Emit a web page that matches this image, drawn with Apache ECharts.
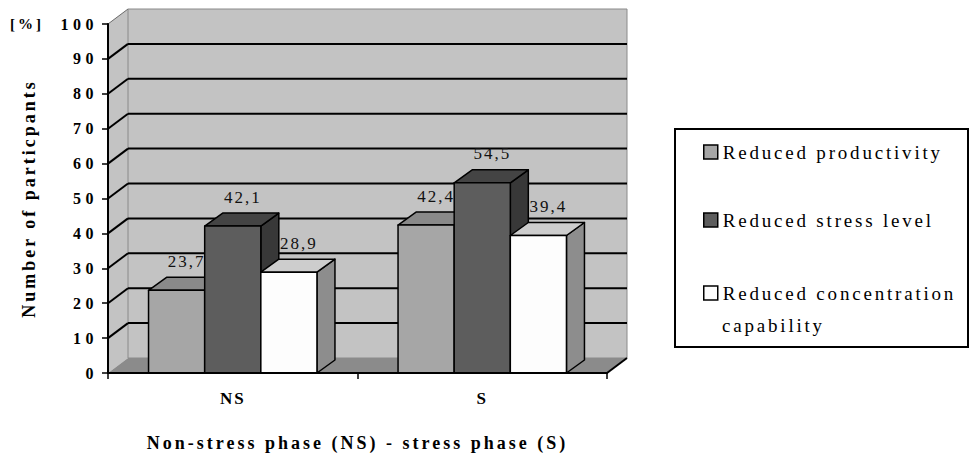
<!DOCTYPE html>
<html>
<head>
<meta charset="utf-8">
<script src="https://cdn.jsdelivr.net/npm/echarts@6/dist/echarts.min.js"></script>
<style>
  html, body { margin: 0; padding: 0; background: #ffffff; }
  #chart { width: 970px; height: 457px; }
</style>
</head>
<body>
<div id="chart"></div>
<script>
// Phases on the x axis and the share of participants per effect
const categories = ['NS', 'S'];
const seriesNames = ['Reduced productivity', 'Reduced stress level', 'Reduced concentration capability'];
const productivity = [23.7, 42.4];
const stressLevel = [42.1, 54.5];
const concentration = [28.9, 39.4];
const yTicks = [0, 10, 20, 30, 40, 50, 60, 70, 80, 90, 100];

const FONT = 'Liberation Serif';

// Face shades for each bar: front, top, side
const shades = [
  { front: '#a6a6a6', top: '#898989', side: '#7c7c7c' },
  { front: '#5d5d5d', top: '#444444', side: '#383838' },
  { front: '#fdfdfd', top: '#cdcdcd', side: '#8d8d8d' }
];

// Depth of the walls and of the boxes in the oblique projection
const WALL_DX = 20, WALL_DY = -15;
const BAR_DX = 18, BAR_DY = -13;
const BAR_RATIO = 0.225;

function renderFrame(params, api) {
  const cs = params.coordSys;
  const x0 = cs.x, x1 = cs.x + cs.width;
  const yMin = yTicks[0], yMax = yTicks[yTicks.length - 1];
  const yB = api.coord([0, yMin])[1];
  const yT = api.coord([0, yMax])[1];
  const children = [];
  // left side wall
  children.push({
    type: 'polygon',
    shape: { points: [[x0, yT], [x0 + WALL_DX, yT + WALL_DY], [x0 + WALL_DX, yB + WALL_DY], [x0, yB]] },
    style: { fill: '#c3c3c3', stroke: null }
  });
  // back wall
  children.push({
    type: 'rect',
    shape: { x: x0 + WALL_DX, y: yT + WALL_DY, width: x1 - x0, height: yB - yT },
    style: { fill: '#c3c3c3', stroke: '#8a8a8a', lineWidth: 1 }
  });
  // floor
  children.push({
    type: 'polygon',
    shape: { points: [[x0, yB], [x1, yB], [x1 + WALL_DX, yB + WALL_DY], [x0 + WALL_DX, yB + WALL_DY]] },
    style: { fill: '#8b8b8b', stroke: null }
  });
  children.push({
    type: 'line',
    shape: { x1: x1, y1: yB, x2: x1 + WALL_DX, y2: yB + WALL_DY },
    style: { stroke: '#000', lineWidth: 2 }
  });
  // gridlines on the back wall and their slants on the side wall
  yTicks.forEach(function (v) {
    if (v === yMin) return;
    const y = api.coord([0, v])[1];
    const isTop = v === yMax;
    if (!isTop) {
      children.push({
        type: 'line',
        shape: { x1: x0 + WALL_DX, y1: y + WALL_DY, x2: x1 + WALL_DX, y2: y + WALL_DY },
        style: { stroke: '#000', lineWidth: 2 }
      });
    }
    children.push({
      type: 'line',
      shape: { x1: x0, y1: y, x2: x0 + WALL_DX, y2: y + WALL_DY },
      style: { stroke: isTop ? '#6a6a6a' : '#000', lineWidth: isTop ? 1 : 2 }
    });
  });
  return { type: 'group', children: children };
}

function fmt(v) {
  return v.toFixed(1).replace('.', ',');
}

function makeBarRenderer(k) {
  const shade = shades[k];
  return function (params, api) {
    const cat = api.value(0);
    const val = api.value(1);
    const base = api.coord([cat, 0]);
    const top = api.coord([cat, val]);
    const band = api.size([1, 0])[0];
    const w = band * BAR_RATIO;
    const xl = base[0] + (k - 1.5) * w;
    const xr = xl + w;
    const yt = top[1], yb = base[1];
    const edge = { stroke: '#000', lineWidth: 1.5, lineJoin: 'round' };
    return {
      type: 'group',
      children: [
        {
          type: 'polygon',
          shape: { points: [[xr, yt], [xr + BAR_DX, yt + BAR_DY], [xr + BAR_DX, yb + BAR_DY], [xr, yb]] },
          style: Object.assign({ fill: shade.side }, edge)
        },
        {
          type: 'polygon',
          shape: { points: [[xl, yt], [xr, yt], [xr + BAR_DX, yt + BAR_DY], [xl + BAR_DX, yt + BAR_DY]] },
          style: Object.assign({ fill: shade.top }, edge)
        },
        {
          type: 'rect',
          shape: { x: xl, y: yt, width: w, height: yb - yt },
          style: Object.assign({ fill: shade.front }, edge)
        },
        {
          type: 'text',
          z2: 50,
          x: (xl + xr) / 2 + 10,
          y: yt - 29,
          style: {
            text: fmt(val),
            fill: '#111',
            fontSize: 17,
            fontFamily: FONT,
            align: 'center',
            verticalAlign: 'middle',
            textAlign: 'center',
            textVerticalAlign: 'middle'
          }
        }
      ]
    };
  };
}

const seriesValues = [productivity, stressLevel, concentration];

const chart = echarts.init(document.getElementById('chart'), null, { renderer: 'svg' });

const barSeries = seriesValues.map(function (vals, k) {
  return {
    type: 'custom',
    name: seriesNames[k],
    z: 2,
    itemStyle: { color: shades[k].front, borderColor: '#000', borderWidth: 1.5 },
    renderItem: makeBarRenderer(k),
    encode: { x: 0, y: 1 },
    data: vals.map(function (v, i) { return [i, v]; })
  };
});

// The last legend entry wraps: its first line sits in the legend row,
// the remainder is set just below it.
const wrapAt = seriesNames[2].lastIndexOf(' ');
const legendFirstLine = seriesNames[2].slice(0, wrapAt);
const legendSecondLine = seriesNames[2].slice(wrapAt + 1);

chart.setOption({
  animation: false,
  backgroundColor: '#ffffff',
  grid: { left: 108, right: 363, top: 24, bottom: 84, show: false },
  xAxis: {
    type: 'category',
    data: categories,
    z: 3,
    boundaryGap: true,
    axisLine: { lineStyle: { color: '#000', width: 2 } },
    axisTick: { show: true, length: 6, alignWithLabel: false, lineStyle: { color: '#000', width: 1.5 } },
    axisLabel: { color: '#000', fontFamily: FONT, fontWeight: 'bold', fontSize: 17, margin: 17 },
    name: 'Non-stress phase (NS) - stress phase (S)',
    nameLocation: 'middle',
    nameGap: 61,
    nameTextStyle: { color: '#000', fontFamily: FONT, fontWeight: 'bold', fontSize: 18 }
  },
  yAxis: {
    type: 'value',
    min: 0,
    max: 100,
    interval: 10,
    z: 3,
    axisLine: { show: true, lineStyle: { color: '#000', width: 2 } },
    axisTick: { show: true, length: 6, lineStyle: { color: '#000', width: 1.5 } },
    axisLabel: { color: '#000', fontFamily: FONT, fontWeight: 'bold', fontSize: 16, margin: 10 },
    splitLine: { show: false },
    name: 'Number of particpants',
    nameLocation: 'middle',
    nameGap: 70,
    nameRotate: 90,
    nameTextStyle: { color: '#000', fontFamily: FONT, fontWeight: 'bold', fontSize: 18 }
  },
  legend: {
    orient: 'vertical',
    left: 703,
    top: 136,
    padding: 0,
    itemGap: 36,
    itemWidth: 14,
    itemHeight: 14,
    icon: 'rect',
    selectedMode: false,
    textStyle: { color: '#000', fontFamily: FONT, fontSize: 19, lineHeight: 32 },
    formatter: function (name) { return name === seriesNames[2] ? legendFirstLine : name; },
    data: seriesNames.map(function (n, k) {
      const item = {
        name: n,
        itemStyle: { color: shades[k].front, borderColor: '#000', borderWidth: 1.5 }
      };
      if (k === 2) {
        item.textStyle = { lineHeight: 42 };
      }
      return item;
    })
  },
  graphic: [
    {
      type: 'rect',
      shape: { x: 675, y: 129, width: 293, height: 218 },
      style: { fill: 'none', stroke: '#000', lineWidth: 2 }
    },
    {
      type: 'text',
      x: 722,
      y: 325,
      style: {
        text: legendSecondLine,
        fill: '#000',
        fontFamily: FONT,
        fontSize: 19,
        align: 'left',
        verticalAlign: 'middle',
        textAlign: 'left',
        textVerticalAlign: 'middle'
      }
    },
    {
      type: 'text',
      x: 10,
      y: 24,
      style: {
        text: '[%]',
        fill: '#000',
        fontFamily: FONT,
        fontSize: 15,
        fontWeight: 'bold',
        align: 'left',
        verticalAlign: 'middle',
        textAlign: 'left',
        textVerticalAlign: 'middle'
      }
    }
  ],
  series: [
    {
      type: 'custom',
      name: 'frame',
      z: 1,
      silent: true,
      renderItem: renderFrame,
      encode: { x: 0, y: 1 },
      data: [[0, 0]]
    }
  ].concat(barSeries)
});

// Wide character spacing of the labels, keyed by font size
const SPACING = { 15: 3, 16: 4.5, 17: 2, 18: 3, 19: 2.8 };
function spaceText() {
  document.querySelectorAll('#chart svg text').forEach(function (t) {
    const fs = Math.round(parseFloat(getComputedStyle(t).fontSize));
    if (SPACING[fs] != null) t.style.letterSpacing = SPACING[fs] + 'px';
  });
}
chart.on('finished', spaceText);
setTimeout(spaceText, 0);
setTimeout(spaceText, 200);
</script>
</body>
</html>
